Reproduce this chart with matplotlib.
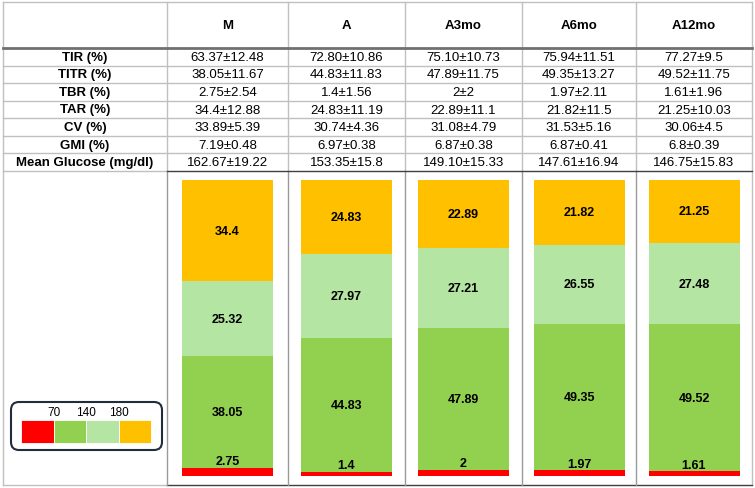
import numpy as np
import matplotlib
matplotlib.use('Agg')
from matplotlib import pyplot as plt
from matplotlib.patches import FancyBboxPatch, Rectangle

plt.rcParams['font.family'] = ['Liberation Sans', 'DejaVu Sans']

groups = ['M', 'A', 'A3mo', 'A6mo', 'A12mo']
row_labels = ['TIR (%)', 'TITR (%)', 'TBR (%)', 'TAR (%)', 'CV (%)', 'GMI (%)',
              'Mean Glucose (mg/dl)']
table_values = [
    ['63.37±12.48', '72.80±10.86', '75.10±10.73', '75.94±11.51', '77.27±9.5'],
    ['38.05±11.67', '44.83±11.83', '47.89±11.75', '49.35±13.27', '49.52±11.75'],
    ['2.75±2.54', '1.4±1.56', '2±2', '1.97±2.11', '1.61±1.96'],
    ['34.4±12.88', '24.83±11.19', '22.89±11.1', '21.82±11.5', '21.25±10.03'],
    ['33.89±5.39', '30.74±4.36', '31.08±4.79', '31.53±5.16', '30.06±4.5'],
    ['7.19±0.48', '6.97±0.38', '6.87±0.38', '6.87±0.41', '6.8±0.39'],
    ['162.67±19.22', '153.35±15.8', '149.10±15.33', '147.61±16.94', '146.75±15.83'],
]

# stacked segments, bottom to top
tbr = [2.75, 1.4, 2, 1.97, 1.61]
titr = [38.05, 44.83, 47.89, 49.35, 49.52]
tir_hi = [25.32, 27.97, 27.21, 26.55, 27.48]
tar = [34.4, 24.83, 22.89, 21.82, 21.25]
thresholds = ['70', '140', '180']

colors = ['#ff0000', '#92d050', '#b4e5a2', '#ffc000']

W, H = 755, 489
fig = plt.figure(figsize=(W / 100, H / 100), dpi=100)
ax = fig.add_axes([0, 0, 1, 1])
ax.set_xlim(0, W)
ax.set_ylim(H, 0)
ax.axis('off')

col_edges = [3, 167, 288, 405, 522, 636, 752]
top, head_bot, rows_bot, bottom = 3, 49, 172, 486
row_h = (rows_bot - head_bot) / len(row_labels)

light = '#c0c0c0'
# outer + grid lines
ax.plot([3, 752], [top, top], color=light, lw=1)
ax.plot([3, 3], [top, bottom], color=light, lw=1)
ax.plot([752, 752], [top, bottom], color=light, lw=1)
ax.plot([3, 167], [bottom, bottom], color=light, lw=1)
ax.plot([167, 752], [bottom, bottom], color='#404040', lw=1)
for x in col_edges[1:-1]:
    ax.plot([x, x], [top, rows_bot], color=light, lw=1)
    ax.plot([x, x], [rows_bot, bottom], color='#9a9a9a', lw=1)
ax.plot([3, 752], [head_bot, head_bot], color='#707070', lw=2)
for i in range(1, len(row_labels)):
    y = head_bot + i * row_h
    ax.plot([3, 752], [y, y], color=light, lw=1)
ax.plot([3, 167], [rows_bot, rows_bot], color=light, lw=1)
ax.plot([167, 752], [rows_bot, rows_bot], color='#404040', lw=1)

centers = [(col_edges[i] + col_edges[i + 1]) / 2 for i in range(len(col_edges) - 1)]

# header
for j, g in enumerate(groups):
    ax.text(centers[j + 1], (top + head_bot) / 2, g, ha='center', va='center',
            fontsize=9.5, fontweight='bold')

for i, lab in enumerate(row_labels):
    y = head_bot + (i + 0.5) * row_h
    ax.text(centers[0], y, lab, ha='center', va='center', fontsize=9.5, fontweight='bold')
    for j, v in enumerate(table_values[i]):
        ax.text(centers[j + 1], y, v, ha='center', va='center', fontsize=9.5)

# legend box
ax.add_patch(FancyBboxPatch((11, 403), 151, 48, boxstyle='round,pad=0,rounding_size=8',
                            fc='white', ec='#1f2d3d', lw=1.5))
lx0, lw_ = 21, 32.5
for k, c in enumerate(colors):
    ax.add_patch(Rectangle((lx0 + k * lw_, 421), lw_, 23, fc=c, ec='white', lw=0.6))
for k, t in enumerate(thresholds):
    ax.text(lx0 + (k + 1) * lw_, 413, t, ha='center', va='center', fontsize=8.5)

# bars
bx = fig.add_axes([167 / W, (H - 477) / H, (752 - 167) / W, (477 - 181) / H])
bx.set_xlim(167, 752)
bx.set_ylim(0, 100)
bx.axis('off')

segs = np.array([tbr, titr, tir_hi, tar])
tot = segs.sum(axis=0)
pct = segs / tot * 100
base = np.zeros(len(groups))
xs = centers[1:]
for k in range(4):
    bx.bar(xs, pct[k], bottom=base, width=91, color=colors[k], edgecolor='none')
    for j in range(len(groups)):
        if k == 0:
            bx.text(xs[j], pct[k][j] + 0.2, f'{segs[k][j]:g}', ha='center', va='bottom',
                    fontsize=9, fontweight='bold')
        else:
            bx.text(xs[j], base[j] + pct[k][j] / 2, f'{segs[k][j]:g}', ha='center',
                    va='center', fontsize=9, fontweight='bold')
    base += pct[k]

fig.savefig('out.png', dpi=100)
